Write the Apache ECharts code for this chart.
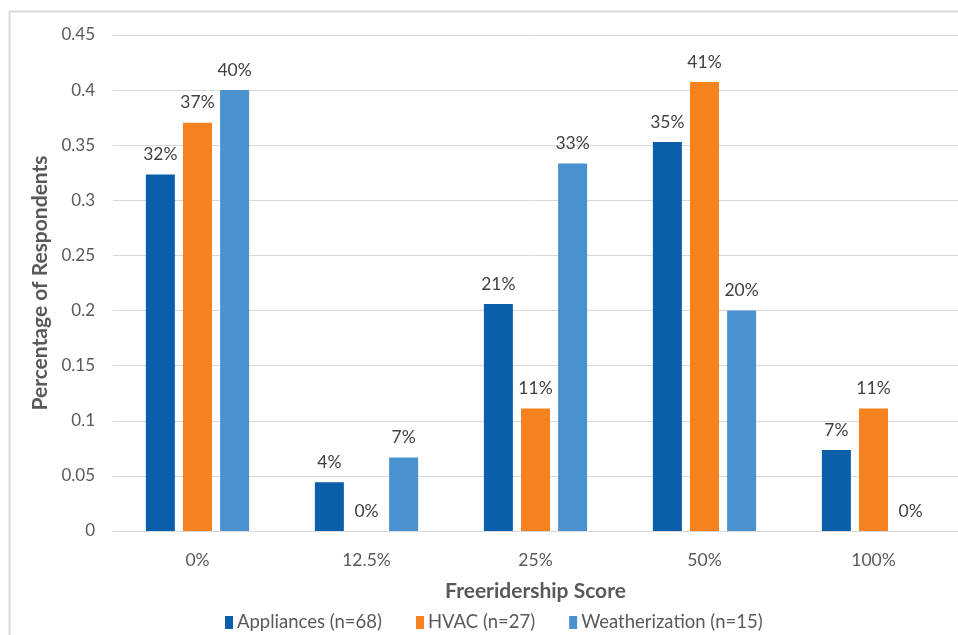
<!DOCTYPE html>
<html>
<head>
<meta charset="utf-8">
<script src="https://cdn.jsdelivr.net/npm/echarts@6/dist/echarts.min.js"></script>
<style>
  html, body { margin: 0; padding: 0; background: #ffffff; }
  #chart { width: 958px; height: 635px; }
</style>
</head>
<body>
<div id="chart"></div>
<script>
// Freeridership score buckets
const categories = ['0%', '12.5%', '25%', '50%', '100%'];

// Share of respondents in each bucket, per program category
const appliances = [22 / 68, 3 / 68, 14 / 68, 24 / 68, 5 / 68];
const hvac = [10 / 27, 0, 3 / 27, 11 / 27, 3 / 27];
const weatherization = [6 / 15, 1 / 15, 5 / 15, 3 / 15, 0];

const seriesNames = ['Appliances (n=68)', 'HVAC (n=27)', 'Weatherization (n=15)'];
const yTicks = { min: 0, max: 0.45, interval: 0.05 };

const colors = ['#0b5ea9', '#f5821f', '#4a91d0'];
const font = 'Lato, "Open Sans", sans-serif';

const chart = echarts.init(document.getElementById('chart'), null, { renderer: 'canvas' });

function barSeries(name, data, color) {
  return {
    name: name,
    type: 'bar',
    data: data,
    barWidth: 29,
    barGap: '28%',
    itemStyle: { color: color },
    label: {
      show: true,
      position: 'top',
      distance: 11,
      color: '#404040',
      fontFamily: font,
      fontSize: 17.5,
      formatter: p => Math.round(p.value * 100) + '%'
    }
  };
}

chart.setOption({
  animation: false,
  textStyle: { fontFamily: font },
  graphic: [{
    type: 'rect',
    left: 7, top: 9,
    shape: { width: 1000, height: 700 },
    style: { fill: 'none', stroke: '#d9d9d9', lineWidth: 2 },
    silent: true
  }],
  grid: { left: 113, top: 35, width: 850, height: 496 },
  legend: {
    data: seriesNames,
    left: 220,
    top: 608,
    itemWidth: 8,
    itemHeight: 13,
    itemGap: 34,
    icon: 'rect',
    textStyle: { color: '#595959', fontSize: 18.5, fontFamily: font, padding: [0, 0, 0, -1] }
  },
  xAxis: {
    type: 'category',
    data: categories,
    name: 'Freeridership Score',
    nameLocation: 'middle',
    nameGap: 50,
    nameTextStyle: { color: '#595959', fontSize: 21, fontWeight: 'bold', fontFamily: font },
    axisLine: { lineStyle: { color: '#d9d9d9', width: 1 } },
    axisTick: { show: false },
    axisLabel: { color: '#595959', fontSize: 17.5, margin: 20, fontFamily: font }
  },
  yAxis: {
    type: 'value',
    min: yTicks.min,
    max: yTicks.max,
    interval: yTicks.interval,
    name: 'Percentage of Respondents',
    nameLocation: 'middle',
    nameGap: 62,
    nameRotate: 90,
    nameTextStyle: { color: '#595959', fontSize: 21, fontWeight: 'bold', fontFamily: font },
    axisLine: { show: false },
    axisTick: { show: false },
    splitLine: { lineStyle: { color: '#d9d9d9', width: 1 } },
    axisLabel: {
      color: '#595959', fontSize: 17, margin: 18, fontFamily: font,
      formatter: v => String(parseFloat(v.toFixed(2)))
    }
  },
  series: [
    barSeries(seriesNames[0], appliances, colors[0]),
    barSeries(seriesNames[1], hvac, colors[1]),
    barSeries(seriesNames[2], weatherization, colors[2])
  ]
});
</script>
</body>
</html>
